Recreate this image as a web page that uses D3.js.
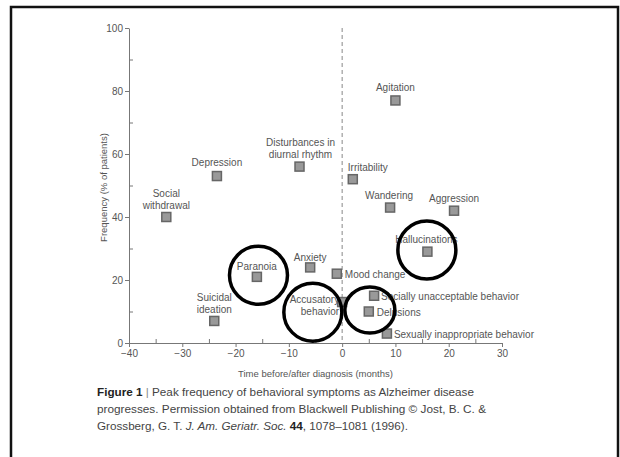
<html>
<head>
<meta charset="utf-8">
<title>Peak frequency of behavioral symptoms</title>
<style>
  body { margin: 0; background: #fff; }
  text { font-family: "Liberation Sans", Arial, sans-serif; }
</style>
<script src="https://d3js.org/d3.v7.min.js"></script>
</head>
<body>
<svg width="620" height="457"></svg>
<script>
// symptom names, peak time (months rel. to diagnosis), peak frequency (% of patients)
var symptoms = ["Social withdrawal", "Depression", "Disturbances in diurnal rhythm", "Agitation",
                "Irritability", "Wandering", "Aggression", "Hallucinations", "Paranoia", "Anxiety",
                "Mood change", "Suicidal ideation", "Accusatory behavior", "Socially unacceptable behavior",
                "Delusions", "Sexually inappropriate behavior"];
var months = [-33, -23.5, -8, 10, 2, 9, 21, 16, -16, -6, -1, -24, 0, 6, 5, 8.4];
var freq   = [40, 53, 56, 77, 52, 43, 42, 29, 21, 24, 22, 7, 13, 15, 10, 3];

var xTicks = [-40, -30, -20, -10, 0, 10, 20, 30];
var yTicks = [0, 20, 40, 60, 80, 100];

// hand-drawn highlight rings (data coords)
var ringX = [-15.7, -5.5, 5.2, 15.9];
var ringY = [21.5, 9.8, 10.5, 29.5];

// label layout: text lines, anchor, dx, first baseline dy
var labelLayout = {
  "Social withdrawal": [["Social", "withdrawal"], "middle", 0, -20],
  "Depression": [["Depression"], "middle", 0, -10],
  "Disturbances in diurnal rhythm": [["Disturbances in", "diurnal rhythm"], "middle", 1, -21],
  "Agitation": [["Agitation"], "middle", 0, -9],
  "Irritability": [["Irritability"], "start", -5, -8],
  "Wandering": [["Wandering"], "middle", -1, -9],
  "Aggression": [["Aggression"], "middle", 0, -9],
  "Hallucinations": [["Hallucinations"], "middle", -1, -9],
  "Paranoia": [["Paranoia"], "middle", 0, -7],
  "Anxiety": [["Anxiety"], "middle", 0, -6],
  "Mood change": [["Mood change"], "start", 8, 4],
  "Suicidal ideation": [["Suicidal", "ideation"], "middle", 0, -20],
  "Accusatory behavior": [["Accusatory", "behavior"], "end", -3, 1],
  "Socially unacceptable behavior": [["Socially unacceptable behavior"], "start", 7, 4],
  "Delusions": [["Delusions"], "start", 8, 4],
  "Sexually inappropriate behavior": [["Sexually inappropriate behavior"], "start", 7, 4]
};

var svg = d3.select("svg");

// page frame
svg.append("rect")
  .attr("x", 11).attr("y", 7).attr("width", 607).attr("height", 470)
  .attr("fill", "none").attr("stroke", "#111").attr("stroke-width", 2.5);

var x = d3.scaleLinear().domain([-40, 30]).range([129, 502]);
var y = d3.scaleLinear().domain([0, 100]).range([343, 28]);

var axisColor = "#777", textColor = "#555";

// x axis: major ticks below, minor ticks above
svg.append("g").attr("transform", "translate(0," + y(0) + ")")
  .call(d3.axisBottom(x).tickValues(xTicks).tickSize(4).tickSizeOuter(0).tickPadding(3));
svg.append("g").attr("transform", "translate(0," + y(0) + ")")
  .call(d3.axisTop(x).tickValues(d3.range(-35, 30, 10)).tickSize(4).tickFormat(""))
  .select(".domain").remove();

// y axis: major ticks left, minor ticks right
svg.append("g").attr("transform", "translate(" + x(-40) + ",0)")
  .call(d3.axisLeft(y).tickValues(yTicks).tickSize(4).tickSizeOuter(0).tickPadding(2));
svg.append("g").attr("transform", "translate(" + x(-40) + ",0)")
  .call(d3.axisRight(y).tickValues(d3.range(10, 100, 20)).tickSize(4).tickFormat(""))
  .select(".domain").remove();

svg.selectAll(".domain, .tick line").attr("stroke", axisColor);
svg.selectAll(".tick text").attr("fill", textColor).style("font-size", "10px")
  .style("font-family", "\"Liberation Sans\", Arial, sans-serif");

// dashed diagnosis line
svg.append("line")
  .attr("x1", x(0)).attr("x2", x(0)).attr("y1", y(100)).attr("y2", y(0))
  .attr("stroke", "#888").attr("stroke-dasharray", "4,3");

// axis titles
svg.append("text")
  .attr("x", (x(-40) + x(30)) / 2).attr("y", 377)
  .attr("text-anchor", "middle").attr("fill", textColor).style("font-size", "9.5px")
  .text("Time before/after diagnosis (months)");
svg.append("text")
  .attr("transform", "translate(107," + (y(50) + 2) + ") rotate(-90)")
  .attr("text-anchor", "middle").attr("fill", textColor).style("font-size", "9.5px")
  .text("Frequency (% of patients)");

// points
var pts = symptoms.map(function(s, i) { return {name: s, mx: months[i], fy: freq[i]}; });

svg.append("g").selectAll("rect")
  .data(pts).enter().append("rect")
  .attr("x", function(d) { return x(d.mx) - 4.5; })
  .attr("y", function(d) { return y(d.fy) - 4.5; })
  .attr("width", 9).attr("height", 9)
  .attr("fill", "#999").attr("stroke", "#666").attr("stroke-width", 1.5);

// labels
var lab = svg.append("g").selectAll("text")
  .data(pts).enter().append("text")
  .attr("fill", textColor).style("font-size", "10px")
  .attr("text-anchor", function(d) { return labelLayout[d.name][1]; })
  .attr("x", function(d) { return x(d.mx) + labelLayout[d.name][2]; })
  .attr("y", function(d) { return y(d.fy) + labelLayout[d.name][3]; });
lab.each(function(d) {
  var t = d3.select(this), L = labelLayout[d.name];
  L[0].forEach(function(line, j) {
    t.append("tspan")
      .attr("x", x(d.mx) + L[2])
      .attr("dy", j === 0 ? 0 : 12)
      .text(line);
  });
});

// rings
svg.append("g").selectAll("ellipse")
  .data(ringX).enter().append("ellipse")
  .attr("cx", function(d) { return x(d); })
  .attr("cy", function(d, i) { return y(ringY[i]); })
  .attr("rx", function(d, i) { return i === 2 ? 25 : 29; })
  .attr("ry", function(d, i) { return i === 2 ? 23 : 29; })
  .attr("fill", "none").attr("stroke", "#000").attr("stroke-width", 3.5);

// caption
var cap = svg.append("g").style("font-size", "11.5px").attr("fill", "#444");
var l1 = cap.append("text").attr("x", 97).attr("y", 396)
  .attr("textLength", 377).attr("lengthAdjust", "spacingAndGlyphs");
l1.append("tspan").attr("font-weight", "bold").attr("fill", "#222").text("Figure 1");
l1.append("tspan").attr("fill", "#888").text(" | ");
l1.append("tspan").text("Peak frequency of behavioral symptoms as Alzheimer disease");
cap.append("text").attr("x", 97).attr("y", 413)
  .attr("textLength", 389).attr("lengthAdjust", "spacingAndGlyphs")
  .text("progresses. Permission obtained from Blackwell Publishing \u00A9 Jost, B. C. &");
var l3 = cap.append("text").attr("x", 97).attr("y", 430)
  .attr("textLength", 311).attr("lengthAdjust", "spacingAndGlyphs");
l3.append("tspan").text("Grossberg, G. T. ");
l3.append("tspan").attr("font-style", "italic").text("J. Am. Geriatr. Soc.");
l3.append("tspan").text(" ");
l3.append("tspan").attr("font-weight", "bold").attr("fill", "#222").text("44");
l3.append("tspan").text(", 1078\u20131081 (1996).");
</script>
</body>
</html>
